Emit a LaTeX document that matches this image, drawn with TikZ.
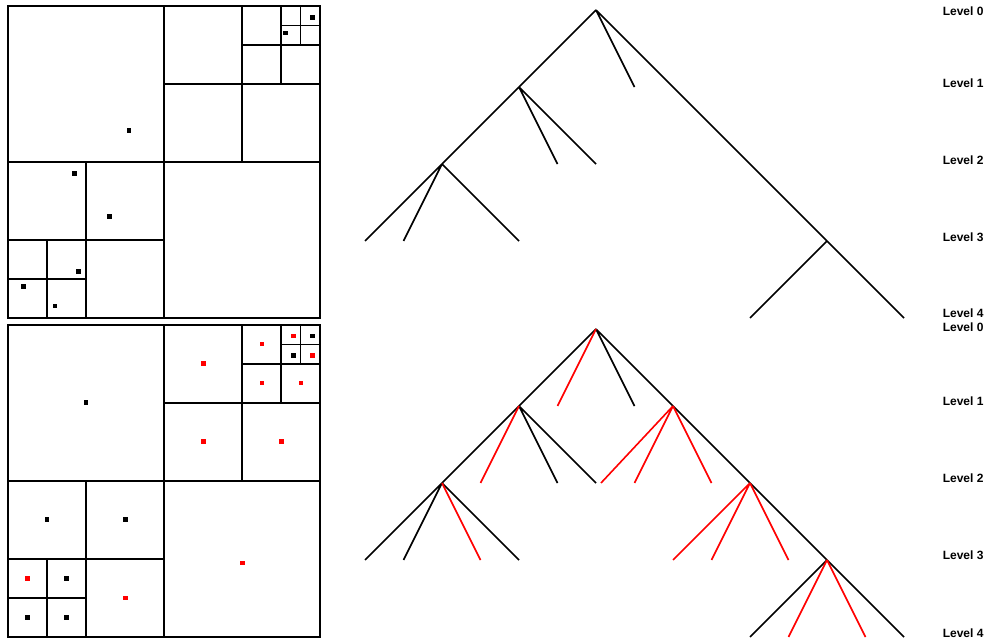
\documentclass[tikz,border=0pt]{standalone}
\usepackage{fontspec}
\setmainfont{Liberation Sans}
\usepackage{xcolor}
\usepackage{tikz}

\begin{document}
\begin{tikzpicture}[x=1pt,y=-1pt,line width=1.6pt,
  blackpt/.style={fill=black,inner sep=0pt,minimum size=4.5pt},
  redpt/.style={blackpt,fill=red},
  newbranch/.style={draw=red},
  lev/.style={anchor=west,inner sep=0pt,font=\bfseries\fontsize{12}{12}\selectfont}]
\useasboundingbox (0,0) rectangle (989,639);

% the two quadtrees (same cells)
\foreach \gy in {6,325}{
\begin{scope}[shift={(8,\gy)}]
\draw (0,0) rectangle (312,312);
\foreach \cx/\cy/\cs in {0/0/312,156/0/156,234/0/78,273/0/39,0/156/156,0/234/78}
  \draw (\cx+\cs/2,\cy) -- (\cx+\cs/2,\cy+\cs) (\cx,\cy+\cs/2) -- (\cx+\cs,\cy+\cs/2);
\end{scope}
}

% points
\foreach [count=\i] \px/\py in {129/130.7,74.3/173.7,109.7/216.7,78.3/271.3,23.3/286.7,55/306,285.3/33,312.3/17.3}
  \node[blackpt] (tp\i) at (\px,\py) {};
\foreach [count=\i] \px/\py in {86/402.3,312.7/336,293.3/355.7,47/519.7,125.3/519.7,66.7/578.3,27.7/617.3,66.7/617.3}
  \node[blackpt] (bp\i) at (\px,\py) {};
\foreach [count=\i] \px/\py in {203.3/363.3,262/344,293.3/336,312.7/355.7,262/383,301/383,203.3/441.7,281.3/441.7,242.3/563,27.7/578.3,125.3/598}
  \node[redpt] (rp\i) at (\px,\py) {};

% upper tree
\coordinate (t) at (596,10);
\coordinate (tSW) at (519,87);
\coordinate (tNW) at (634.5,87);
\coordinate (tNENENE) at (827,241);
\coordinate (tNENENESW) at (750,318);
\coordinate (tNENENENE) at (904,318);
\coordinate (tSWSW) at (442,164);
\coordinate (tSWNW) at (557.5,164);
\coordinate (tSWNE) at (596,164);
\coordinate (tSWSWSW) at (365,241);
\coordinate (tSWSWSE) at (403.5,241);
\coordinate (tSWSWNE) at (519,241);
\draw (t) -- (tSW) (t) -- (tNW) (t) -- (tNENENE);
\draw (tNENENE) -- (tNENENESW) (tNENENE) -- (tNENENENE);
\draw (tSW) -- (tSWSW) (tSW) -- (tSWNW) (tSW) -- (tSWNE);
\draw (tSWSW) -- (tSWSWSW) (tSWSW) -- (tSWSWSE) (tSWSW) -- (tSWSWNE);

% lower tree
\coordinate (b) at (596,329);
\coordinate (bSW) at (519,406);
\coordinate (bSE) at (557.5,406);
\coordinate (bNW) at (634.5,406);
\coordinate (bNE) at (673,406);
\coordinate (bSWSW) at (442,483);
\coordinate (bSWSE) at (480.5,483);
\coordinate (bSWNW) at (557.5,483);
\coordinate (bSWNE) at (596,483);
\coordinate (bNESW) at (601,483);
\coordinate (bNESE) at (634.5,483);
\coordinate (bNENW) at (711.5,483);
\coordinate (bNENE) at (750,483);
\coordinate (bSWSWSW) at (365,560);
\coordinate (bSWSWSE) at (403.5,560);
\coordinate (bSWSWNW) at (480.5,560);
\coordinate (bSWSWNE) at (519,560);
\coordinate (bNENESW) at (673,560);
\coordinate (bNENESE) at (711.5,560);
\coordinate (bNENENW) at (788.5,560);
\coordinate (bNENENE) at (827,560);
\coordinate (bNENENESW) at (750,637);
\coordinate (bNENENESE) at (788.5,637);
\coordinate (bNENENENW) at (865.5,637);
\coordinate (bNENENENE) at (904,637);
\draw (b) -- (bSW) (b) -- (bNW) (b) -- (bNE);
\draw (bSW) -- (bSWSW) (bSW) -- (bSWNW) (bSW) -- (bSWNE);
\draw (bNE) -- (bNENE);
\draw (bSWSW) -- (bSWSWSW) (bSWSW) -- (bSWSWSE) (bSWSW) -- (bSWSWNE);
\draw (bNENE) -- (bNENENE);
\draw (bNENENE) -- (bNENENESW) (bNENENE) -- (bNENENENE);
\draw[newbranch] (b) -- (bSE);
\draw[newbranch] (bSW) -- (bSWSE);
\draw[newbranch] (bNE) -- (bNESW) (bNE) -- (bNESE) (bNE) -- (bNENW);
\draw[newbranch] (bSWSW) -- (bSWSWNW);
\draw[newbranch] (bNENE) -- (bNENESW) (bNENE) -- (bNENESE) (bNENE) -- (bNENENW);
\draw[newbranch] (bNENENE) -- (bNENENESE) (bNENENE) -- (bNENENENW);

% level labels
\foreach [count=\i from 0] \ly in {11,83,160,237,313.5}
  \node[lev] (tl\i) at (942,\ly) {Level \i};
\foreach [count=\i from 0] \ly in {327.5,401,478,555,633.5}
  \node[lev] (bl\i) at (942,\ly) {Level \i};
\end{tikzpicture}
\end{document}
